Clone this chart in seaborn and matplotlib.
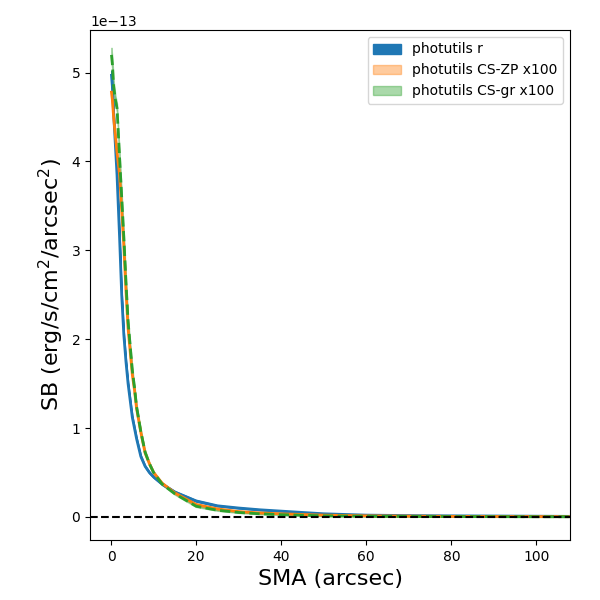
import numpy as np
import pandas as pd
import seaborn as sns
import matplotlib
matplotlib.use("Agg")
import matplotlib.pyplot as plt

# semi-major axis (arcsec)
sma = [0.1, 0.3, 0.6, 1.0, 1.4, 2.0, 2.5, 3.0, 3.5, 4.0, 5.0, 5.5, 6.0, 7.0, 8.0,
       9.0, 10.0, 12.0, 15.0, 20.0, 25.0, 30.0, 35.0, 40.0, 50.0, 60.0, 70.0,
       80.0, 90.0, 100.0, 108.0]

# surface brightness, units of 1e-13 erg/s/cm^2/arcsec^2
sb_r = [4.97, 4.85, 4.55, 4.2, 3.85, 3.15, 2.5, 2.05, 1.75, 1.5, 1.12, 1.0, 0.88,
        0.68, 0.57, 0.5, 0.45, 0.37, 0.28, 0.18, 0.125, 0.1, 0.08, 0.065, 0.035,
        0.02, 0.015, 0.012, 0.01, 0.008, 0.006]
sb_zp = [4.78, 4.7, 4.5, 4.3, 4.1, 3.85, 3.45, 3.05, 2.55, 2.12, 1.6, 1.43, 1.22,
         0.95, 0.72, 0.6, 0.5, 0.38, 0.27, 0.14, 0.09, 0.06, 0.045, 0.035, 0.02,
         0.012, 0.009, 0.006, 0.005, 0.004, 0.003]
sb_gr = [5.2, 5.1, 4.85, 4.7, 4.6, 4.05, 3.6, 3.15, 2.65, 2.2, 1.65, 1.46, 1.24,
         0.96, 0.73, 0.6, 0.5, 0.37, 0.26, 0.12, 0.075, 0.05, 0.035, 0.025, 0.012,
         0.007, 0.005, 0.004, 0.003, 0.002, 0.002]

# 1-sigma uncertainties (same units)
err_r = [0.05, 0.05, 0.04, 0.04, 0.04, 0.03, 0.03, 0.03, 0.02, 0.02, 0.02, 0.02, 0.015,
         0.015, 0.01, 0.01, 0.01, 0.01, 0.01, 0.008, 0.006, 0.005, 0.005, 0.004, 0.004,
         0.003, 0.003, 0.003, 0.003, 0.003, 0.003]
err_zp = [0.06, 0.06, 0.05, 0.05, 0.04, 0.04, 0.04, 0.03, 0.03, 0.03, 0.02, 0.02, 0.02,
          0.02, 0.015, 0.015, 0.01, 0.01, 0.01, 0.008, 0.006, 0.005, 0.005, 0.004, 0.004,
          0.003, 0.003, 0.003, 0.003, 0.003, 0.003]
err_gr = [0.08, 0.07, 0.06, 0.05, 0.05, 0.04, 0.04, 0.03, 0.03, 0.03, 0.02, 0.02, 0.02,
          0.02, 0.015, 0.015, 0.01, 0.01, 0.01, 0.008, 0.006, 0.005, 0.005, 0.004, 0.004,
          0.003, 0.003, 0.003, 0.003, 0.003, 0.003]

scale = 1e-13
df = pd.DataFrame({
    "sma": sma,
    "r": np.array(sb_r) * scale,
    "zp": np.array(sb_zp) * scale,
    "gr": np.array(sb_gr) * scale,
    "er": np.array(err_r) * scale,
    "ezp": np.array(err_zp) * scale,
    "egr": np.array(err_gr) * scale,
})

fig = plt.figure(figsize=(6, 6), dpi=100)
ax = fig.add_axes([0.15, 0.10, 0.80, 0.85])

# Bands (these carry the legend)
ax.fill_between(df["sma"], df["r"] - df["er"], df["r"] + df["er"],
                color="C0", alpha=1.0, label="photutils r")
ax.fill_between(df["sma"], df["zp"] - df["ezp"], df["zp"] + df["ezp"],
                color="C1", alpha=0.4, label="photutils CS-ZP x100")
ax.fill_between(df["sma"], df["gr"] - df["egr"], df["gr"] + df["egr"],
                color="C2", alpha=0.4, label="photutils CS-gr x100")

# Lines
sns.lineplot(data=df, x="sma", y="r", ax=ax, color="C0", lw=2, legend=False)
sns.lineplot(data=df, x="sma", y="zp", ax=ax, color="C1", lw=2, legend=False)
sns.lineplot(data=df, x="sma", y="gr", ax=ax, color="C2", lw=2, ls="--", legend=False)

ax.axhline(0, color="k", ls="--")

ax.set_xlim(-4.95, 107.9)
ax.set_ylim(-0.26e-13, 5.48e-13)
ax.set_xlabel("SMA (arcsec)", fontsize=16)
ax.set_ylabel("SB (erg/s/cm$^2$/arcsec$^2$)", fontsize=16)
ax.legend(loc="upper right")

fig.savefig("out.png", dpi=100)
